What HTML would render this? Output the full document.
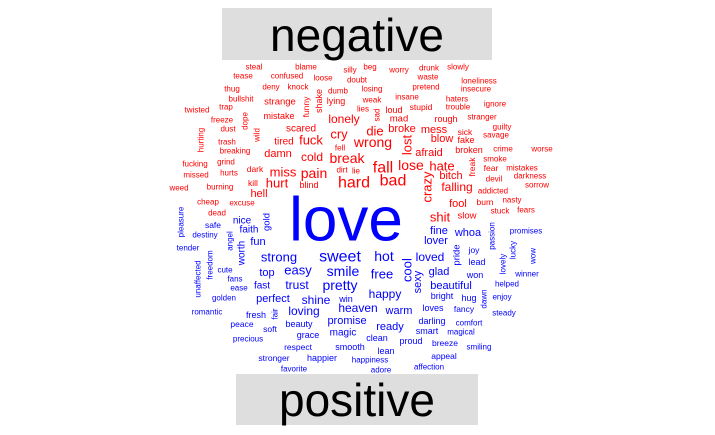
<!DOCTYPE html>
<html><head><meta charset="utf-8"><style>
html,body{margin:0;padding:0;background:#fff;}
svg{display:block;font-family:"Liberation Sans",sans-serif;}
</style></head><body>
<svg id="cloud" width="715" height="435" viewBox="0 0 715 435">
<rect x="222" y="8" width="270" height="52" fill="#dedede"/>
<text x="357" y="35" font-size="46" text-anchor="middle" dominant-baseline="central" fill="#000">negative</text>
<rect x="236" y="374" width="242" height="51" fill="#dedede"/>
<text x="357" y="400" font-size="46" text-anchor="middle" dominant-baseline="central" fill="#000">positive</text>
<g id="words"></g>
</svg>
<script>
// word, x, y, font size, rotated(1)
const negWords = [
["steal",254,67,8,0],["blame",306,67,8,0],["silly",350,70,8,0],["tease",243,76,8,0],["confused",287,76,8,0],["loose",323,78,8,0],["doubt",357,80,8,0],
["thug",232,89,8,0],["deny",271,87,8,0],["knock",298,87,8,0],["dumb",338,91,8,0],["bullshit",241,99,8,0],["strange",280,102,9.5,0],["funny",306,107,8.5,1],["shake",319,101,9,1],["lying",336,101,9,0],
["twisted",197,110,8,0],["trap",226,107,8,0],["dope",245,121,8,1],["mistake",279,116,9,0],["lonely",344,119,12,0],["freeze",222,120,8,0],["dust",228,129,8,0],
["hurting",201,140,8,1],["wild",257,135,8,1],["scared",301,129,10,0],["cry",339,134,13,0],["trash",227,142,8,0],["tired",284,142,10,0],["fuck",311,140,13,0],["wrong",373,142,14,0],
["breaking",235,151,8,0],["fell",340,148,8,0],["damn",278,154,11,0],["cold",312,157,12,0],["break",347,158,14,0],["fucking",195,164,8,0],["grind",226,162,8,0],["dirt",342,170,8,0],["lie",356,171,8,0],
["missed",196,175,8,0],["hurts",229,173,8,0],["dark",255,169,8.5,0],["miss",283,172,13,0],["pain",314,173,14,0],["hard",354,183,16,0],["weed",179,188,8,0],["burning",220,187,8,0],["kill",253,183,8.5,0],["hurt",277,183,13,0],["blind",309,185,9,0],["hell",259,194,11,0],
["beg",370,67,8,0],["worry",399,70,8,0],["drunk",429,68,8,0],["slowly",458,67,8,0],["waste",428,77,8,0],["losing",372,89,8,0],["pretend",426,87,8,0],["loneliness",479,81,8,0],["insecure",476,89,8,0],
["insane",407,97,8,0],["weak",372,100,8,0],["haters",457,99,8,0],["ignore",495,104,8,0],["trouble",458,107,8,0],["stupid",421,107,8.5,0],["lies",363,109,8,0],["sad",377,115,8,1],["loud",394,110,9,0],["mad",399,119,9.5,0],["rough",446,119,9,0],["stranger",482,117,8,0],["guilty",502,127,8,0],
["die",375,131,13,0],["broke",402,129,11,0],["mess",434,130,11,0],["sick",465,132,8.5,0],["savage",496,135,8,0],["lost",407,145,13,1],["blow",442,139,11,0],["fake",466,140,9,0],["afraid",429,153,11,0],["broken",469,150,9,0],["crime",503,149,8,0],["worse",542,149,8,0],
["lose",411,165,14,0],["hate",442,166,13,0],["freak",472,167,8.5,1],["smoke",495,159,8,0],["fear",491,168,8.5,0],["mistakes",522,168,8,0],["fall",383,168,16,0],["bad",393,181,16,0],["bitch",451,176,11,0],["devil",494,179,8,0],["darkness",530,176,8,0],["crazy",427,187,13,1],["falling",457,187,12,0],["addicted",493,191,8,0],["sorrow",537,185,8,0],
["cheap",208,202,8,0],["excuse",242,203,8,0],["dead",217,213,8,0],["fool",458,204,11,0],["burn",485,202,8.5,0],["nasty",512,200,8,0],["stuck",500,211,8,0],["fears",526,210,8,0],["shit",440,217,13,0],["slow",467,216,9.5,0]
];
const posWords = [
["love",346,220,62,0],["pleasure",181,222,8,1],["nice",242,221,10,0],["gold",267,222,9.5,1],["safe",213,225,8.5,0],["faith",249,230,10,0],["destiny",205,235,8,0],["angel",230,241,8,1],["fun",258,242,11,0],["worth",242,253,10,1],["tender",188,248,8,0],
["strong",279,257,13,0],["sweet",340,257,16,0],["freedom",210,265,8,1],["unaffected",198,279,8,1],["cute",225,270,8,0],["top",267,273,11,0],["easy",298,270,13,0],["smile",343,271,14,0],["fans",235,279,8,0],["fast",262,286,10,0],["trust",297,285,12,0],["pretty",340,285,14,0],["ease",239,288,8,0],
["golden",224,298,8,0],["perfect",273,299,11,0],["shine",316,300,12,0],["win",346,299,9,0],["heaven",358,308,12,0],["romantic",207,312,8,0],["loving",304,311,12,0],["fresh",256,315,9,0],["fair",275,314,8,1],["promise",347,321,11,0],["peace",242,324,8.5,0],["beauty",299,324,9,0],["soft",270,329,8.5,0],["magic",343,333,10,0],["grace",308,335,9,0],["precious",248,339,8,0],["respect",298,347,8.5,0],["smooth",350,347,9,0],["stronger",274,358,8.5,0],["happier",322,358,9,0],["happiness",370,360,8,0],["favorite",294,369,8,0],["adore",381,370,8,0],
["fine",439,231,11,0],["whoa",468,233,11,0],["passion",492,236,8,1],["promises",526,231,8,0],["lover",436,241,11,0],["joy",474,250,8.5,0],["lucky",513,250,8,1],["wow",533,256,8,1],["hot",384,256,14,0],["loved",430,257,12,0],["pride",457,255,9.5,1],["lead",477,262,9,0],["lovely",503,264,8,1],["cool",407,270,13,1],["free",382,274,13,0],["glad",439,272,11,0],["won",475,275,9,0],["winner",527,274,8,0],["sexy",418,282,11,1],["beautiful",451,286,11,0],["helped",507,284,8,0],
["happy",385,294,12,0],["bright",442,296,9,0],["hug",469,298,9,0],["dawn",484,299,8,1],["enjoy",502,297,8,0],["loves",433,308,9,0],["fancy",464,309,8.5,0],["warm",399,311,11,0],["steady",504,313,8,0],["darling",432,321,9,0],["ready",390,327,11,0],["comfort",469,323,8,0],["smart",427,331,9,0],["magical",461,332,8,0],["clean",377,338,9,0],["proud",411,341,9,0],["breeze",445,343,8.5,0],["smiling",479,347,8,0],["lean",386,351,9,0],["appeal",444,356,8.5,0],["affection",429,367,8,0]
];
const NEG_COLOR = "#ff0000", POS_COLOR = "#0000ff";
const g = document.getElementById('words');
function draw(list, color, group) {
  list.forEach(w => {
    const t = document.createElementNS('http://www.w3.org/2000/svg', 'text');
    
    
    t.setAttribute('x', w[1]);
    t.setAttribute('y', w[2]);
    t.setAttribute('font-size', w[3]);
    t.setAttribute('fill', color);
    t.setAttribute('text-anchor', 'middle');
    t.setAttribute('dominant-baseline', 'central');
    if (w[4]) t.setAttribute('transform', 'rotate(-90 ' + w[1] + ' ' + w[2] + ')');
    t.textContent = w[0];
    g.appendChild(t);
  });
}
draw(negWords, NEG_COLOR, 'negative');
draw(posWords, POS_COLOR, 'positive');
</script>
</body></html>
